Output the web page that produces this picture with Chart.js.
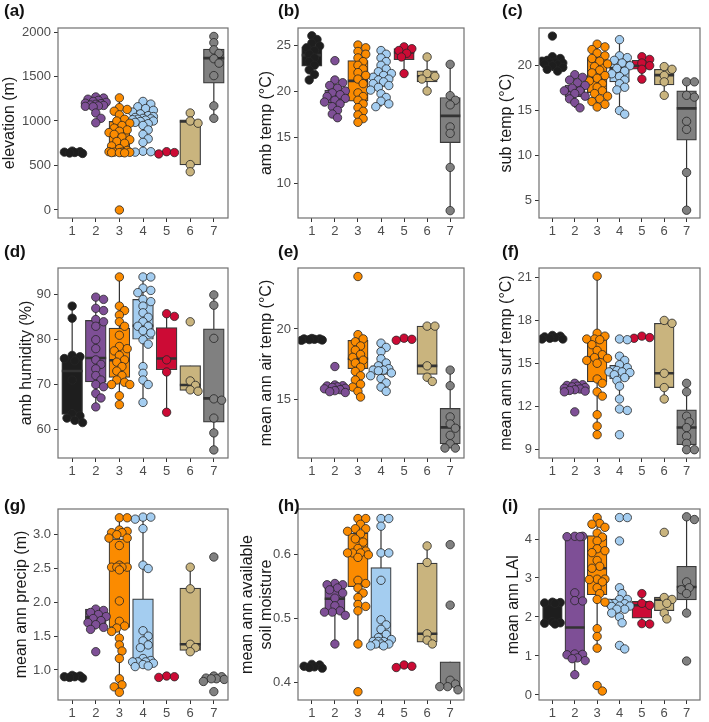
<!DOCTYPE html>
<html>
<head>
<meta charset="utf-8">
<script src="https://cdn.jsdelivr.net/npm/chart.js@4.4.1/dist/chart.umd.min.js"></script>
<style>
  body { margin: 0; background: #fff; width: 709px; height: 722px; position: relative; overflow: hidden; }
  .panel { position: absolute; }
  .tag { position: absolute; font: bold 17px "Liberation Sans", Arial, sans-serif; color: #111; line-height: 17px; }
</style>
</head>
<body>
<script>
// groups on the x axis
const groups = [1, 2, 3, 4, 5, 6, 7];
const groupColors = ['#1e1e1e', '#7e4f96', '#fb8b00', '#a4cdf0', '#cc0b35', '#c9b47e', '#808080'];

// box stats per group: [whisker low, q1, median, q3, whisker high]
// (a) elevation
const elevBox = [[630,640,648,658,665],[1160,1168,1190,1212,1270],[640,645,885,995,1260],[900,983,1020,1062,1160],[630,640,645,650,660],[430,506,994,1013,1090],[1030,1426,1707,1808,1950]];
const elevPts = [
  [662,655,650,646,640,635],
  [1270,1258,1245,1232,1220,1210,1200,1195,1188,1180,1175,1170,1165,1160,1090,1030,980],
  [1260,1150,1130,1110,1070,1020,1000,975,950,920,900,885,870,850,820,790,770,750,720,690,670,655,650,650,648,645,645,642,0],
  [1220,1190,1160,1140,1120,1100,1080,1060,1050,1040,1030,1025,1020,1015,1010,1000,995,985,970,950,900,850,800,760,660,655,650],
  [655,645,630],
  [1090,1000,975,510,430],
  [1950,1880,1800,1760,1700,1650,1510,1170,1030]
];
const elevTicks = [0, 500, 1000, 1500, 2000];

// (b) amb temp
const ambBox = [[21.2,22.7,23.9,24.8,26.0],[17.1,18.7,19.4,20.1,21.2],[16.6,18.9,21.1,23.3,25.0],[18.3,20.5,21.2,21.9,24.4],[21.9,23.4,24.2,24.6,24.8],[20.0,21.0,21.6,22.2,23.7],[7.0,14.4,17.3,19.3,22.9]];
const ambPts = [
  [26.0,25.6,25.2,24.9,24.7,24.4,24.0,23.6,23.2,22.8,22.3,21.8,21.2],
  [23.3,21.2,20.9,20.6,20.3,20.0,19.8,19.6,19.4,19.2,19.0,18.8,18.6,18.3,17.9,17.5,17.1],
  [25.0,24.7,24.3,24.0,23.6,23.2,22.8,22.4,22.0,21.7,21.3,20.8,19.8,19.4,19.0,18.6,18.2,17.8,17.4,17.0,16.6],
  [24.4,24.0,23.6,23.2,22.8,22.4,22.1,21.9,21.7,21.5,21.3,21.2,21.0,20.8,20.6,20.4,20.1,19.7,19.3,18.9,18.6,18.3],
  [24.8,24.6,24.4,24.1,23.7,21.9],
  [23.7,21.9,21.6,21.3,20.0],
  [22.9,19.5,19.0,18.5,16.1,15.4,11.7,7.0]
];
const ambTicks = [10, 15, 20, 25];

// (c) sub temp
const subBox = [[19.4,20.1,20.3,20.55,21.0],[15.3,16.55,17.2,17.85,19.0],[15.4,17.0,18.6,20.9,22.4],[14.6,18.2,19.7,20.45,22.9],[18.5,19.6,20.0,20.6,21.0],[16.7,17.85,18.95,19.6,19.9],[3.9,11.7,15.25,17.2,18.2]];
const subPts = [
  [23.3,21.0,20.8,20.6,20.5,20.4,20.3,20.3,20.2,20.1,20.0,19.8,19.6,19.4],
  [19.0,18.7,18.4,18.1,17.8,17.5,17.2,17.2,16.9,16.6,16.3,15.9,15.3],
  [22.4,22.1,21.8,21.4,21.1,20.8,20.5,20.2,19.9,19.5,19.2,18.9,18.6,18.3,18.0,17.6,17.2,16.9,16.6,16.3,16.0,15.7,15.4],
  [22.9,21.1,20.9,20.6,20.3,20.0,19.7,19.4,19.1,18.8,18.4,18.0,17.6,17.3,15.0,14.6],
  [21.0,20.7,20.3,20.0,19.6,18.5],
  [19.9,19.6,18.9,18.2,16.7],
  [18.2,18.2,16.7,16.5,13.8,12.9,8.1,3.9]
];
const subTicks = [5, 10, 15, 20];

// (d) amb humidity
const humBox = [[61.5,63.3,73.0,76.3,87.5],[65.0,70.6,75.9,84.3,89.5],[65.5,71.6,75.4,82.6,94.0],[66.0,80.1,83.1,89.0,94.0],[63.8,73.3,75.8,82.7,85.8],[68.5,68.7,69.9,74.2,74.2],[55.4,61.6,66.9,82.4,90.0]];
const humPts = [
  [87.5,84.8,76.5,76.2,75.8,75.3,71.0,63.5,63.0,62.5,62.0,61.5],
  [89.5,89.0,87.0,86.5,84.5,84.0,83.0,80.0,78.0,75.5,74.5,73.5,72.0,71.0,70.0,69.5,68.0,67.0,65.0],
  [94.0,87.5,86.5,85.5,84.0,83.0,81.0,78.5,78.0,77.5,76.5,75.5,75.0,74.0,73.0,72.0,71.0,70.5,70.0,70.0,67.5,65.5],
  [94.0,94.0,91.5,91.0,90.5,89.0,88.5,87.5,86.0,85.0,84.0,83.0,83.0,82.0,81.5,80.0,79.0,74.0,72.5,71.0,70.0,66.0],
  [85.8,85.2,75.5,72.8,63.8],
  [84.0,70.8,69.8,68.8,68.5],
  [90.0,87.7,80.3,66.8,66.5,62.5,59.2,55.4]
];
const humTicks = [60, 70, 80, 90];

// (e) mean ann air temp
const airBox = [[19.2,19.22,19.26,19.3,19.33],[15.5,15.65,15.8,15.97,16.05],[15.2,17.2,17.9,19.2,19.6],[15.9,16.8,17.1,17.4,18.2],[19.2,19.22,19.27,19.32,19.35],[16.3,16.8,17.4,20.2,20.2],[11.6,11.9,13.06,14.4,17.1]];
const airPts = [
  [19.33,19.3,19.3,19.27,19.25,19.22,19.2],
  [17.35,16.05,16.0,15.98,15.92,15.88,15.82,15.78,15.72,15.65,15.58,15.52],
  [23.7,19.6,19.3,19.1,18.8,18.5,18.2,18.0,17.8,17.6,17.3,17.0,16.7,16.4,16.1,15.9,15.6,15.2],
  [19.0,18.7,18.4,17.9,17.6,17.4,17.2,17.1,17.1,17.05,16.9,16.7,16.5,16.2,15.9,15.6],
  [19.35,19.27,19.2],
  [20.2,20.2,17.4,16.6,16.3],
  [17.1,16.0,13.8,13.3,13.0,12.5,11.9,11.6,11.6]
];
const airTicks = [15, 20];

// (f) mean ann surf temp
const surfBox = [[16.65,16.7,16.75,16.85,16.95],[12.9,13.1,13.25,13.45,13.65],[10.0,13.7,15.4,16.7,21.1],[12.5,13.9,14.4,14.85,15.5],[16.7,16.75,16.8,16.9,16.95],[12.5,13.3,14.3,17.8,18.0],[8.95,9.3,10.5,11.74,13.6]];
const surfPts = [
  [16.95,16.9,16.85,16.8,16.75,16.7,16.7],
  [13.6,13.5,13.45,13.4,13.35,13.3,13.25,13.2,13.15,13.1,13.05,13.0,11.6],
  [21.1,17.1,16.9,16.7,16.7,16.65,16.3,15.9,15.6,15.4,15.35,15.2,15.0,13.9,13.6,13.0,12.7,11.4,10.6,10.0],
  [16.7,16.65,15.5,15.2,14.9,14.7,14.5,14.4,14.4,14.35,14.2,14.0,13.8,13.4,12.5,11.8,11.7,10.0],
  [16.9,16.8,16.75],
  [18.0,17.8,14.3,13.3,12.5],
  [13.6,13.0,11.3,10.9,10.5,9.9,9.4,8.95,8.95]
];
const surfTicks = [9, 12, 15, 18, 21];

// (g) mean ann precip
const precBox = [[0.87,0.89,0.9,0.91,0.92],[1.6,1.65,1.78,1.9,1.92],[0.67,1.63,2.52,2.94,3.25],[1.05,1.07,1.11,2.05,3.26],[0.88,0.89,0.9,0.905,0.91],[1.27,1.29,1.38,2.21,2.52],[0.83,0.85,0.87,0.895,0.91]];
const precPts = [
  [0.92,0.91,0.9,0.9,0.89,0.88],
  [1.9,1.88,1.85,1.82,1.79,1.76,1.73,1.7,1.67,1.63,1.6,1.27],
  [3.25,3.25,3.07,3.05,3.03,3.03,3.0,2.95,2.95,2.84,2.55,2.52,2.52,2.52,2.52,2.48,2.02,1.72,1.65,1.62,1.57,1.47,1.37,1.28,1.17,0.87,0.78,0.75,0.67],
  [3.26,3.26,3.23,3.09,2.55,2.5,1.58,1.5,1.43,1.37,1.33,1.17,1.14,1.12,1.12,1.12,1.1,1.08,1.06,1.05],
  [0.91,0.9,0.89],
  [2.52,2.2,1.38,1.33,1.27],
  [2.67,0.91,0.9,0.88,0.87,0.87,0.86,0.83,0.68]
];
const precTicks = [1.0, 1.5, 2.0, 2.5, 3.0];

// (h) mean ann available soil moisture
const soilBox = [[0.421,0.424,0.425,0.427,0.429],[0.46,0.508,0.531,0.553,0.556],[0.46,0.55,0.605,0.634,0.657],[0.457,0.461,0.464,0.58,0.657],[0.422,0.424,0.425,0.427,0.428],[0.46,0.463,0.476,0.587,0.614],[0.388,0.393,0.394,0.432,0.432]];
const soilPts = [
  [0.428,0.427,0.425,0.424,0.423,0.422],
  [0.555,0.553,0.553,0.548,0.545,0.54,0.532,0.52,0.512,0.51,0.51,0.505,0.46],
  [0.657,0.657,0.648,0.641,0.641,0.637,0.633,0.625,0.62,0.61,0.606,0.603,0.603,0.603,0.6,0.596,0.56,0.555,0.548,0.54,0.533,0.522,0.519,0.512,0.46,0.385],
  [0.657,0.657,0.645,0.603,0.603,0.56,0.498,0.49,0.483,0.475,0.47,0.467,0.464,0.464,0.464,0.46,0.46,0.46,0.457,0.457],
  [0.427,0.425,0.423],
  [0.614,0.588,0.476,0.466,0.46],
  [0.616,0.521,0.403,0.397,0.393,0.393,0.388]
];
const soilTicks = [0.4, 0.5, 0.6];

// (i) mean ann LAI
const laiBox = [[1.82,1.86,2.35,2.4,2.42],[0.52,1.0,1.73,4.08,4.08],[1.2,2.57,3.25,4.09,4.55],[1.85,2.18,2.31,2.46,2.75],[1.82,1.97,2.3,2.4,2.6],[1.95,2.16,2.44,2.51,2.51],[2.1,2.44,2.77,3.3,4.57]];
const laiPts = [
  [2.38,2.37,2.36,2.35,1.88,1.85,1.84,1.82],
  [4.07,4.07,4.06,4.06,2.62,2.42,2.41,1.05,1.04,1.03,0.95,0.93,0.88,0.52],
  [4.55,4.4,4.38,4.3,4.15,4.05,3.95,3.75,3.7,3.65,3.45,3.3,3.25,2.97,2.97,2.96,2.9,2.75,2.6,2.45,2.38,1.7,1.5,1.2,0.24,0.1],
  [4.55,4.55,3.95,2.75,2.6,2.45,2.45,2.35,2.35,2.34,2.28,2.28,2.27,2.2,2.2,2.1,2.0,1.85,1.27,1.18],
  [2.6,2.35,2.3,1.83,1.82],
  [4.17,2.5,2.45,2.35,2.1,1.95],
  [4.57,4.5,2.9,2.75,2.7,2.6,2.1,0.87]
];
const laiTicks = [0, 1, 2, 3, 4];

// panel list: data + axis range + where it sits in the 3x3 grid
const panels = [
  { tag: '(a)', title: 'elevation (m)', box: elevBox, pts: elevPts, ticks: elevTicks, min: -90, max: 2045, dec: 0, col: 0, row: 0, tl: 0 },
  { tag: '(b)', title: 'amb temp (°C)', box: ambBox, pts: ambPts, ticks: ambTicks, min: 6.2, max: 26.85, dec: 0, col: 1, row: 0, tl: 21 },
  { tag: '(c)', title: 'sub temp (°C)', box: subBox, pts: subPts, ticks: subTicks, min: 3.03, max: 24.2, dec: 0, col: 2, row: 0, tl: 25 },
  { tag: '(d)', title: 'amb humidity (%)', box: humBox, pts: humPts, ticks: humTicks, min: 53.6, max: 96, dec: 0, col: 0, row: 1, tl: 17 },
  { tag: '(e)', title: 'mean ann air temp (°C)', box: airBox, pts: airPts, ticks: airTicks, min: 10.9, max: 24.3, dec: 0, col: 1, row: 1, tl: 21 },
  { tag: '(f)', title: 'mean ann surf temp (°C)', box: surfBox, pts: surfPts, ticks: surfTicks, min: 8.37, max: 21.67, dec: 0, col: 2, row: 1, tl: 25 },
  { tag: '(g)', title: 'mean ann precip (m)', box: precBox, pts: precPts, ticks: precTicks, min: 0.556, max: 3.38, dec: 1, col: 0, row: 2, tl: 12 },
  { tag: '(h)', title: ['mean ann available', 'soil moisture'], box: soilBox, pts: soilPts, ticks: soilTicks, min: 0.372, max: 0.672, dec: 1, col: 1, row: 2, tl: 2 },
  { tag: '(i)', title: 'mean ann LAI', box: laiBox, pts: laiPts, ticks: laiTicks, min: -0.13, max: 4.77, dec: 0, col: 2, row: 2, tl: 32 }
];

// grid geometry
const colX = [0, 236, 472], colW = [236, 236, 237], plotL = [58, 62, 67], padR = [8, 8, 9], tagX = [4, 278, 502];
const rowY = [0, 240, 480], rowH = [240, 240, 242], padT = [28, 28, 29], tagY = [2, 243, 497];
const AXIS_H = 22;
const HALF = 0.44;      // half box width in x units
const R = 4.2;          // point radius
const FONT = '"Liberation Sans", Arial, sans-serif';

// frame round the panel (ggplot panel border)
const frame = {
  id: 'frame',
  afterDraw(chart) {
    const { ctx, chartArea: a } = chart;
    ctx.save();
    ctx.strokeStyle = '#707070';
    ctx.lineWidth = 1.2;
    ctx.strokeRect(a.left, a.top, a.right - a.left, a.bottom - a.top);
    ctx.restore();
  }
};

// compact beeswarm: nudge dots sideways (max ~10px), overlap allowed like the original
function swarm(vals, pxY, pxX) {
  const idx = vals.map((v, i) => i).sort((a, b) => vals[b] - vals[a]);
  const placed = [];
  const offs = new Array(vals.length).fill(0);
  const minD = 6.2;
  idx.forEach(i => {
    const y = vals[i] * pxY;
    let best = 0, bestD = -1;
    for (let k = 0; k < 9; k++) {
      const dx = (k % 2 === 1 ? 1 : -1) * Math.ceil(k / 2) * 2.6;
      const d = placed.reduce((m, q) => Math.min(m, Math.hypot(q.x - dx, q.y - y)), Infinity);
      if (d >= minD) { best = dx; break; }
      if (d > bestD) { bestD = d; best = dx; }
    }
    placed.push({ x: best, y: y });
    offs[i] = best / pxX;
  });
  return offs;
}

function makePanel(p) {
  const c = p.col, r = p.row;
  const wrap = document.createElement('div');
  wrap.className = 'panel';
  wrap.style.left = colX[c] + 'px';
  wrap.style.top = rowY[r] + 'px';
  const canvas = document.createElement('canvas');
  canvas.width = colW[c];
  canvas.height = rowH[r];
  wrap.appendChild(canvas);
  document.body.appendChild(wrap);

  const tag = document.createElement('div');
  tag.className = 'tag';
  tag.textContent = p.tag;
  tag.style.left = tagX[c] + 'px';
  tag.style.top = tagY[r] + 'px';
  document.body.appendChild(tag);

  const plotW = colW[c] - plotL[c] - padR[c];
  const plotH = rowH[r] - padT[r] - AXIS_H;
  const pxX = plotW / 7.2;
  const pxY = plotH / (p.max - p.min);

  const datasets = [];
  // points on top
  p.pts.forEach((vals, i) => {
    const offs = swarm(vals, pxY, pxX);
    datasets.push({
      type: 'line',
      showLine: false,
      data: vals.map((v, j) => ({ x: groups[i] + offs[j], y: v })),
      pointRadius: R,
      pointBackgroundColor: groupColors[i],
      pointBorderColor: '#262626',
      pointBorderWidth: 0.8,
      order: 0
    });
  });
  // medians
  datasets.push({
    type: 'line',
    data: p.box.flatMap((b, i) => [{ x: groups[i] - HALF, y: b[2] }, { x: groups[i] + HALF, y: b[2] }, { x: groups[i], y: null }]),
    borderColor: '#333333',
    borderWidth: 2.6,
    pointRadius: 0,
    spanGaps: false,
    order: 1
  });
  // boxes q1..q3
  datasets.push({
    type: 'bar',
    data: p.box.map((b, i) => ({ x: groups[i], y: [b[1], b[3]] })),
    backgroundColor: groupColors,
    borderColor: '#3a3a3a',
    borderWidth: 1.2,
    borderSkipped: false,
    barThickness: 2 * HALF * pxX,
    order: 2
  });
  // whiskers
  datasets.push({
    type: 'line',
    data: p.box.flatMap((b, i) => [{ x: groups[i], y: b[0] }, { x: groups[i], y: b[4] }, { x: groups[i], y: null }]),
    borderColor: '#333333',
    borderWidth: 1.2,
    pointRadius: 0,
    spanGaps: false,
    order: 3
  });

  return new Chart(canvas, {
    type: 'bar',
    data: { datasets: datasets },
    options: {
      responsive: false,
      animation: false,
      events: [],
      layout: { padding: { left: p.tl, right: padR[c], top: padT[r], bottom: 0 } },
      plugins: { legend: { display: false }, tooltip: { enabled: false } },
      scales: {
        x: {
          type: 'linear',
          min: 0.4,
          max: 7.6,
          offset: false,
          afterBuildTicks: s => { s.ticks = groups.map(v => ({ value: v })); },
          afterFit: s => { s.height = AXIS_H; },
          ticks: { font: { size: 13, family: FONT }, color: '#4d4d4d', padding: 2, maxRotation: 0, autoSkip: false },
          grid: { drawOnChartArea: false, drawTicks: true, tickLength: 4, tickColor: '#333', offset: false },
          border: { display: false }
        },
        y: {
          type: 'linear',
          min: p.min,
          max: p.max,
          afterBuildTicks: s => { s.ticks = p.ticks.map(v => ({ value: v })); },
          afterFit: s => { s.width = plotL[c] - p.tl; },
          ticks: { callback: v => Number(v).toFixed(p.dec), font: { size: 13, family: FONT }, color: '#4d4d4d', padding: 3 },
          grid: { drawOnChartArea: false, drawTicks: true, tickLength: 4, tickColor: '#333' },
          border: { display: false },
          title: { display: true, text: p.title, font: { size: 16, family: FONT }, color: '#1a1a1a', padding: { top: 0, bottom: 0 } }
        }
      }
    },
    plugins: [frame]
  });
}

panels.forEach(makePanel);
</script>
</body>
</html>
